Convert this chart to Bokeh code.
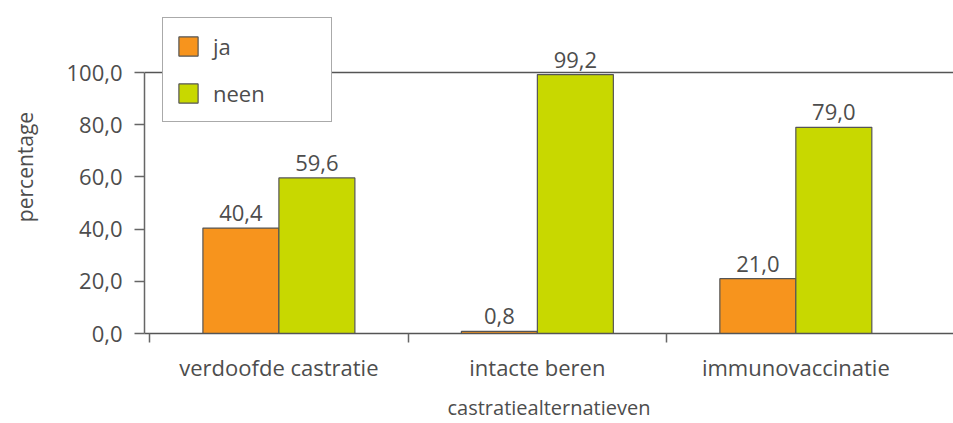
from bokeh.plotting import figure
from bokeh.models import (ColumnDataSource, FixedTicker, LinearAxis, Range1d, Span,
                          LabelSet, Legend, LegendItem)
from bokeh.core.properties import value
from bokeh.transform import dodge
from bokeh.embed import file_html
from bokeh.resources import INLINE

categories = ["verdoofde castratie", "intacte beren", "immunovaccinatie"]
ja = [40.4, 0.8, 21.0]
neen = [59.6, 99.2, 79.0]
series_names = ["ja", "neen"]
y_ticks = [0, 20, 40, 60, 80, 100]
y_tick_labels = ["0,0", "20,0", "40,0", "60,0", "80,0", "100,0"]
x_title = "castratiealternatieven"
y_title = "percentage"

FONT = "Open Sans"
TXT = "#4d4d4d"
ORANGE = "#f7941d"
GREEN = "#c8d800"
EDGE = "#555555"

centers = [i + 0.5 for i in range(len(categories))]
src = ColumnDataSource(dict(
    x=centers, ja=ja, neen=neen,
    ja_lbl=[f"{v:.1f}".replace(".", ",") for v in ja],
    neen_lbl=[f"{v:.1f}".replace(".", ",") for v in neen],
))

p = figure(width=953, height=423, output_backend="svg", toolbar_location=None,
           x_range=Range1d(-0.02, 3.11), y_range=Range1d(0, 127.6),
           x_axis_type=None, y_axis_type=None,
           min_border_left=144, min_border_right=0, min_border_top=0, min_border_bottom=90)
p.outline_line_color = None
p.background_fill_color = "white"
p.border_fill_color = "white"

bw = 0.294
r_ja = p.vbar(x=dodge("x", -bw / 2), top="ja", bottom=0, width=bw, source=src,
              fill_color=ORANGE, line_color=EDGE, line_width=1.2)
r_neen = p.vbar(x=dodge("x", bw / 2), top="neen", bottom=0, width=bw, source=src,
                fill_color=GREEN, line_color=EDGE, line_width=1.2)

for col, lbl, off in (("ja", "ja_lbl", -bw / 2), ("neen", "neen_lbl", bw / 2)):
    p.add_layout(LabelSet(x=dodge("x", off), y=col, text=lbl, source=src,
                          text_align="center", text_baseline="bottom", y_offset=7,
                          text_font=value(FONT), text_font_size=value("22px"),
                          text_color=TXT))

# x axis
xaxis = LinearAxis(ticker=FixedTicker(ticks=centers, minor_ticks=[0, 1, 2]),
                   major_label_overrides={c: n for c, n in zip(centers, categories)})
xaxis.major_tick_line_color = None
xaxis.major_tick_out = 0
xaxis.major_tick_in = 0
xaxis.minor_tick_out = 9
xaxis.minor_tick_in = 0
xaxis.minor_tick_line_color = "#666666"
xaxis.minor_tick_line_width = 1.5
xaxis.axis_line_color = "#555555"
xaxis.axis_line_width = 1.5
xaxis.major_label_standoff = 9
xaxis.major_label_text_font = FONT
xaxis.major_label_text_font_size = "22px"
xaxis.major_label_text_color = TXT
xaxis.axis_label = x_title
xaxis.axis_label_text_font = FONT
xaxis.axis_label_text_font_size = "20px"
xaxis.axis_label_text_font_style = "normal"
xaxis.axis_label_text_color = TXT
xaxis.axis_label_standoff = 9
p.add_layout(xaxis, "below")

# y axis
yaxis = LinearAxis(ticker=FixedTicker(ticks=y_ticks), bounds=(0, 100),
                   major_label_overrides={t: l for t, l in zip(y_ticks, y_tick_labels)})
yaxis.major_tick_out = 10
yaxis.major_tick_in = 0
yaxis.minor_tick_line_color = None
yaxis.major_tick_line_color = "#666666"
yaxis.major_tick_line_width = 1.5
yaxis.axis_line_color = "#666666"
yaxis.axis_line_width = 1.5
yaxis.major_label_standoff = 12
yaxis.major_label_text_font = FONT
yaxis.major_label_text_font_size = "22px"
yaxis.major_label_text_color = TXT
yaxis.axis_label = y_title
yaxis.axis_label_text_font = FONT
yaxis.axis_label_text_font_size = "21px"
yaxis.axis_label_text_font_style = "normal"
yaxis.axis_label_text_color = TXT
yaxis.axis_label_standoff = 24
p.add_layout(yaxis, "left")

p.xgrid.visible = False
p.ygrid.ticker = FixedTicker(ticks=y_ticks[1:-1])
p.ygrid.grid_line_color = "#a8a8a8"
p.ygrid.grid_line_dash = "2 2"
p.ygrid.grid_line_width = 1.2
p.add_layout(Span(location=y_ticks[-1], dimension="width", line_color="#555555", line_width=1.5))

legend = Legend(items=[LegendItem(label=series_names[0], renderers=[r_ja]),
                       LegendItem(label=series_names[1], renderers=[r_neen])],
                location=(18, 211))
legend.border_line_color = "#555555"
legend.border_line_width = 1.5
legend.background_fill_color = "white"
legend.background_fill_alpha = 1
legend.label_text_font = FONT
legend.label_text_font_size = "22px"
legend.label_text_color = TXT
legend.glyph_width = 24
legend.glyph_height = 24
legend.spacing = 17
legend.padding = 13
legend.margin = 0
legend.label_standoff = 13
legend.label_width = 105
p.add_layout(legend)

open("out.html", "w").write(file_html(p, INLINE))
